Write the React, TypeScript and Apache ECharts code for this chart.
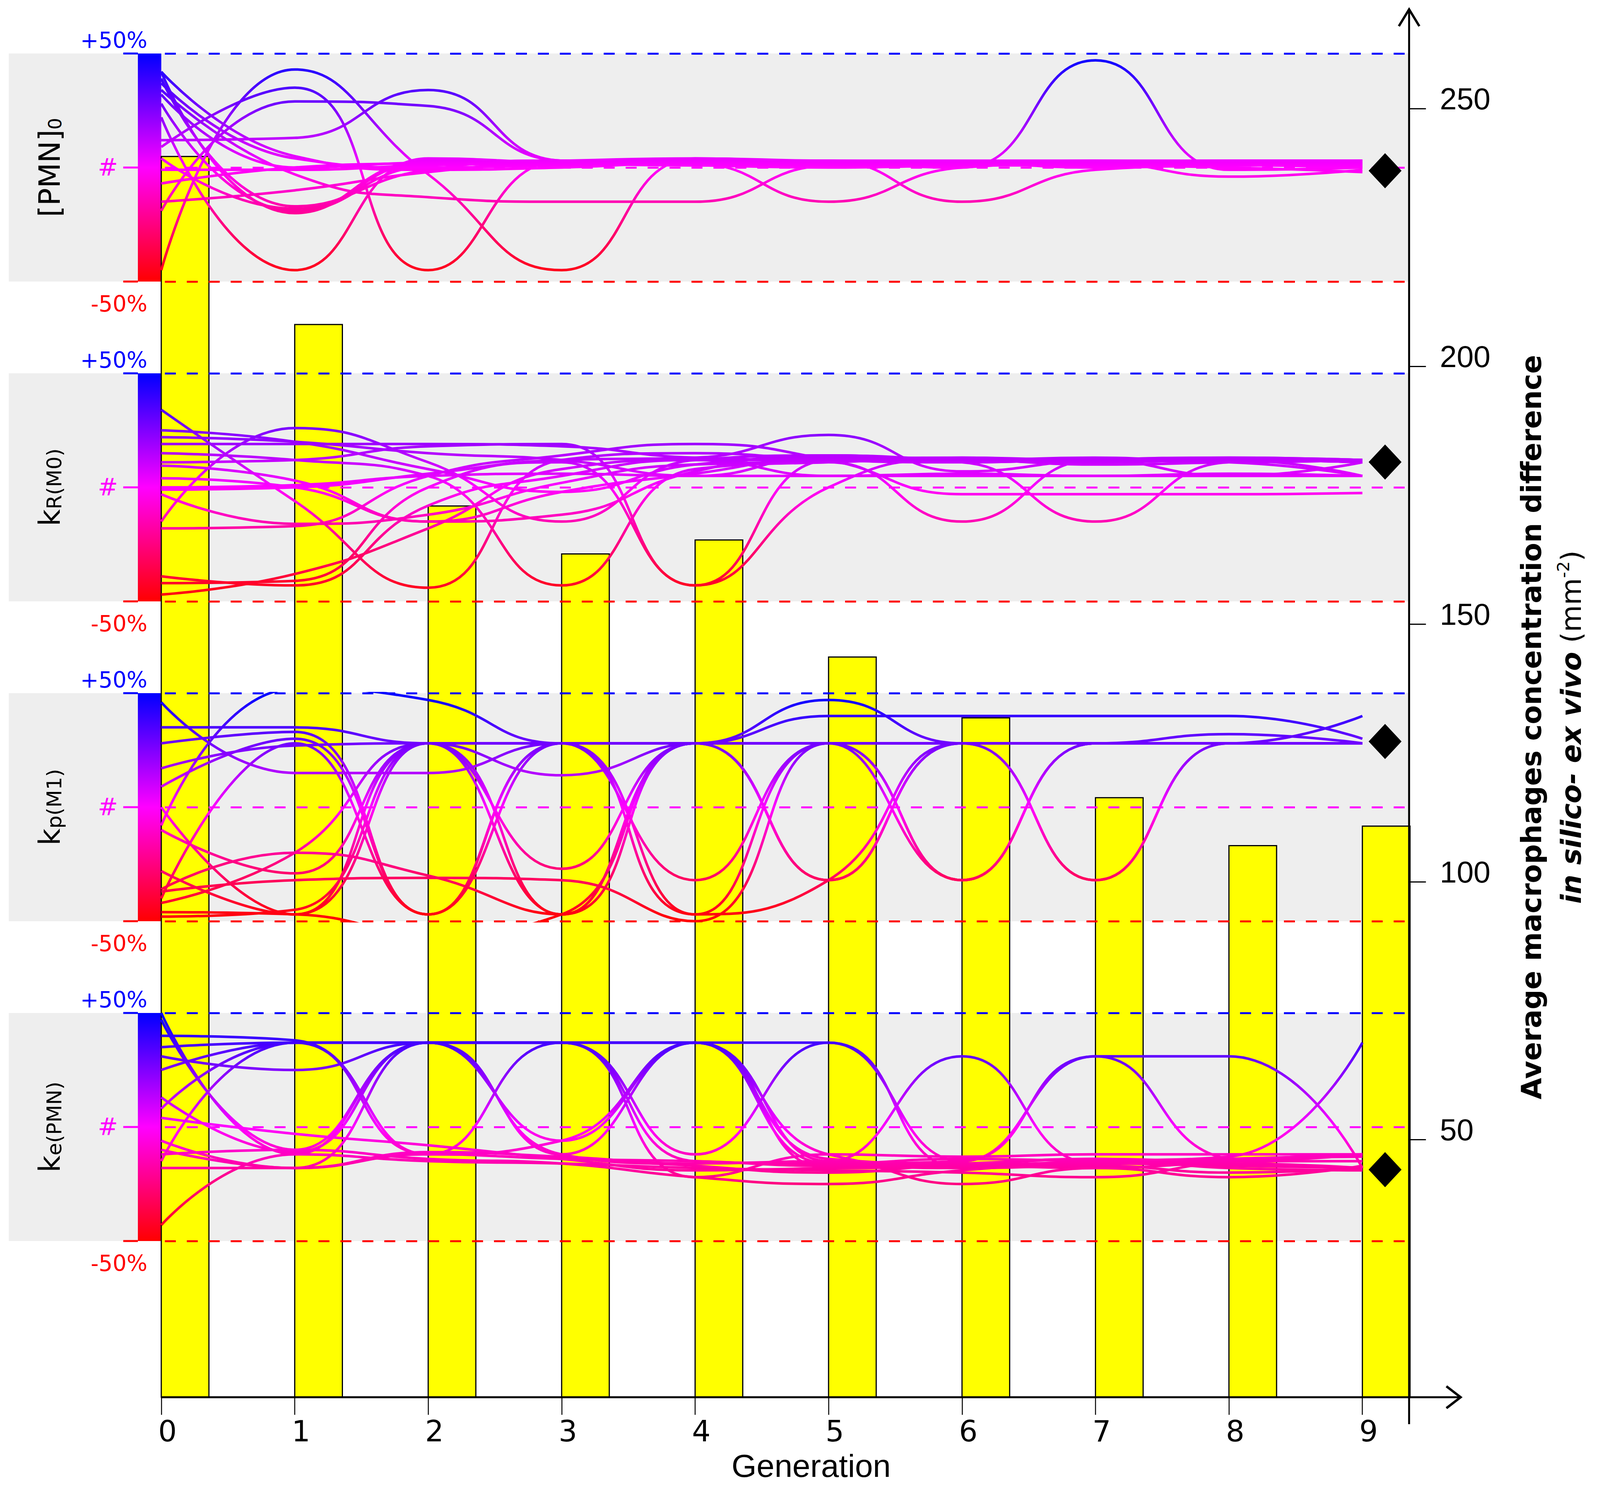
import React, { useEffect, useRef } from 'react';
import * as echarts from 'echarts';

// ------------------------------------------------------------------ data
const generations = [0, 1, 2, 3, 4, 5, 6, 7, 8, 9];
const barValues = [240.7, 208.1, 172.9, 163.6, 166.3, 143.6, 131.8, 116.3, 107.0, 110.8];
const levelLabels = ['+50%', '#', '-50%'];
const panelMain = ['[PMN]', 'k', 'k', 'k'];
const panelSub = ['0', 'R(M0)', 'p(M1)', 'e(PMN)'];
const bestGeneration = 9.17;
const bestValues = [-1.4, 11.1, 28.8, -18.7];

// relative parameter difference (%) of each individual, per generation
const pmnLines = [
  [-45, 43, -3, -45, 4, 2, 1, 2, 1, 2],
  [12, 13, 34, 3, 2, 3, 2, 3, 2, 3],
  [9, 35, -45, 3, 1, 2, 1, 2, 1, 2],
  [-19, 29, 27, 3, 2, 2, 1, 2, 2, 0],
  [22, -45, 4, 2, 1, 2, 1, 1, 2, 1],
  [42, -20, 3, 2, 2, 1, 2, 1, 1, 2],
  [39, -17, -1, 3, 2, -15, 0, 2, 2, 1],
  [37, 4, 0, 1, 2, 3, -15, -1, 1, 2],
  [34, -3, -13, -15, -15, 1, 2, 0, 1, 0],
  [32, 0, 2, 1, 3, 2, 0, 47, -1, 0],
  [28, -19, 1, 3, 2, 1, 1, 2, -4, -1],
  [4, -18, 2, 2, 1, 0, 1, 2, 1, 2],
  [-1, -1, 1, 2, 3, 2, 1, 2, 3, 3],
  [-7, 0, 2, 3, 4, 3, 3, 3, 3, 3],
  [-15, -10, -2, 2, 1, 2, 1, 1, 2, 1],
  [42, 5, -1, 0, 2, 1, 2, 1, 0, -2],
];
const krLines = [
  [34, -6, -44, 12, 15, 12, 11, 12, 12, 11],
  [-15, 26, 11, -15, 12, 14, 12, 11, 12, 11],
  [19, 19, 19, 18, 13, 12, 13, 12, 12, 11],
  [25, 20, 8, -2, 10, 13, 12, 13, 11, 12],
  [-39, -43, -8, 5, 12, 12, 11, 12, 11, 12],
  [-42, -41, 0, 11, -43, 12, 13, 11, 12, 5],
  [15, 12, 5, -43, 8, 11, 12, 11, 12, 11],
  [11, 12, 18, 19, -43, 0, 12, 10, 11, 12],
  [9.5, 3, -15, -2, 6, 13, 11, -15, 11, 12],
  [4, 0, -15, -12, 7, 14, 12, 12, 11, 5],
  [-1, 0, 6, 12, 13, 23, 7, 12, 13, 12],
  [-3, -16, -12, 2, 10, 11, -15, 12, 5, 11],
  [-18, -17, 5, 14, 19, 12, -3, -3, -3, -2.5],
  [-47, -38, -18, 8, 12, 5, 5, 5, 5, 5],
  [22, 20, 15, 12, 5, 14, 12, 12, 13, 12],
  [0, 1, 5, 6, 5, 5, 6, 5, 6, 5],
];
const kpLines = [
  [46, 15, 15, 28, 28, 28, 28, 28, 28, 28],
  [35, 35, 28, 28, 28, 40, 40, 40, 40, 30],
  [28, 33, -47, 28, 28, 28, 28, 28, 28, 28],
  [17, 27, 28, -47, 28, 28, 28, 28, 28, 28],
  [9, 30, -47, 28, 28, -32, 28, 28, 28, 28],
  [-8, 52, 47, 28, 28, 47, 28, 28, 28, 28],
  [-10, -29, 28, 28, -47, 28, 28, -32, 28, 28],
  [-28, -47, 28, -47, 28, 28, -32, 28, 28, 28],
  [-37, -32, -31, -32, -50, 28, -32, 28, 28, 28],
  [-42, -20, 28, 14, 28, -32, 28, 28, 28, 40],
  [-36, -20, -30, -47, 28, 28, 28, -32, 28, 28],
  [-46, -47, -55, -47, 28, 28, 28, 28, 28, 28],
  [-48, -45, 28, -27, 28, 28, -32, 28, 28, 28],
  [-40, 28, -47, 28, -32, 28, 28, 28, 32, 28],
  [0, -47, 28, 28, -47, -32, 28, 28, 28, 28],
];
const keLines = [
  [50, -12, 37, 37, 37, 37, -18, -15, -14, -12],
  [47, -10, 37, 37, -12, 37, -15, 31, -14, -18],
  [40, 38, -12, 37, 37, -15, 31, -16, -14, -13],
  [35, 37, 37, -12, 37, -16, -15, 31, 31, -18],
  [31, 25, 37, 37, 37, -18, -17, -15, -13, 37],
  [25, 37, -12, -6, 37, -14, -16, -14, -15, -12],
  [13, -11, 37, 37, -15, -16, -14, -15, -16, -18],
  [4, -3, -8, -14, -19, -18, -17, -16, -15, -15],
  [-6, -18, -12, -14, -15, -17, -16, -14, -18, -19],
  [-12, -10, -14, -16, -22, -25, -19, -16, -17, -18],
  [-18, -18, -11, -13, -16, -15, -25, -18, -22, -17],
  [-43, -12, -15, -16, -18, -19, -20, -22, -15, -12],
  [-15, 37, 37, -12, -17, -20, -17, -18, -16, -18],
  [8, 37, 37, 37, -22, -12, -13, -12, -12, -12],
  [-10, -18, 37, -6, 37, -12, -18, -17, -20, -18],
];
const panelLines = [pmnLines, krLines, kpLines, keLines];

// ------------------------------------------------------------------ layout (reference pixels)
const REF_W = 4375;
const REF_H = 3813;
const PLOT_L = 441;
const PLOT_R = 3853;
const X_MAX = 9.35;
const AXIS_Y = 3578;
const Y250 = 278;
const PANEL_TOP0 = 137;
const PANEL_STEP = 819;
const PANEL_H = 584;
const BAND_L = 24;
const SCALE_L = 377;
const FONT = 'DejaVu Sans';
const BLUE = '#0000ff';
const MAGENTA = '#ff00ff';
const RED = '#ff0000';
const BAR_SPAN = 0.357;

function buildOption(sx: number, sy: number) {
  const X = (v: number) => v * sx;
  const Y = (v: number) => v * sy;
  const fs = Math.min(sx, sy);
  const F = (v: number) => v * fs;
  const makeGrad = (top: number, bottom: number) =>
    new echarts.graphic.LinearGradient(0, Y(top), 0, Y(bottom), [
      { offset: 0, color: BLUE },
      { offset: 0.5, color: MAGENTA },
      { offset: 1, color: RED },
    ], true);

  const grids: any[] = [{ left: X(PLOT_L), top: Y(Y250), width: X(PLOT_R - PLOT_L), height: Y(AXIS_Y - Y250), containLabel: false, outerBoundsMode: 'none' }];
  const xAxes: any[] = [{
    type: 'value', gridIndex: 0, min: 0, max: X_MAX, interval: 1, z: 6,
    axisLine: { show: false, onZero: false },
    axisTick: { show: true, length: Y(45), lineStyle: { color: '#000', width: 2.5 } },
    axisLabel: {
      fontSize: F(80), fontFamily: FONT, color: '#000', margin: Y(50), lineHeight: F(80),
      padding: [0, 0, 0, X(34)], showMaxLabel: false,
      formatter: (v: number) => (Number.isInteger(v) ? String(v) : ''),
    },
    splitLine: { show: false },
  }];
  const yAxes: any[] = [{
    type: 'value', gridIndex: 0, position: 'right', min: 0, max: 250, interval: 50, z: 6,
    axisLine: { show: false, onZero: false },
    axisTick: { show: true, length: X(46), lineStyle: { color: '#000', width: 3 } },
    axisLabel: {
      fontSize: F(83), fontFamily: 'Liberation Sans', color: '#000', margin: X(84),
      verticalAlign: 'bottom', lineHeight: F(54),
      formatter: (v: number) => (v === 0 ? '' : String(v)),
    },
    splitLine: { show: false },
  }];
  const series: any[] = [{
    type: 'custom', xAxisIndex: 0, yAxisIndex: 0, z: 2, silent: true, clip: false,
    data: generations.map((g, i) => [g, barValues[i]]),
    renderItem: (_p: any, api: any) => {
      const g = api.value(0);
      const v = api.value(1);
      const p0 = api.coord([g, v]);
      const p1 = api.coord([g + BAR_SPAN, 0]);
      return {
        type: 'rect',
        shape: { x: p0[0], y: p0[1], width: p1[0] - p0[0], height: p1[1] - p0[1] },
        style: { fill: '#ffff00', stroke: '#000', lineWidth: 3 },
      };
    },
  }];
  const graphics: any[] = [];

  for (let i = 0; i < 4; i++) {
    const T = PANEL_TOP0 + i * PANEL_STEP;
    const B = T + PANEL_H;
    const M = (T + B) / 2;
    grids.push({ left: X(PLOT_L), top: Y(T), width: X(PLOT_R - PLOT_L), height: Y(PANEL_H), containLabel: false, outerBoundsMode: 'none' });
    xAxes.push({ type: 'value', gridIndex: i + 1, min: 0, max: X_MAX, show: false });
    yAxes.push({
      type: 'value', gridIndex: i + 1, min: -50, max: 50, interval: 50, z: 3,
      axisLine: { show: false, onZero: false }, axisTick: { show: false }, axisLabel: { show: false },
      splitLine: { show: true, lineStyle: { color: [RED, MAGENTA, BLUE], width: 5, type: [X(30), X(30)], dashOffset: X(50) } },
    });
    const grad = makeGrad(T, B);
    panelLines[i].forEach((vals) => {
      series.push({
        type: 'line', xAxisIndex: i + 1, yAxisIndex: i + 1, z: 4, silent: true, clip: true,
        smooth: 0.5, symbol: 'none', showSymbol: false,
        data: generations.map((g, j) => [g, vals[j]]),
        lineStyle: { width: 6.5, color: grad },
      });
    });
    series.push({
      type: 'scatter', xAxisIndex: i + 1, yAxisIndex: i + 1, z: 5, silent: true,
      symbol: 'diamond', symbolSize: [X(90), Y(90)],
      data: [[bestGeneration, bestValues[i]]],
      itemStyle: { color: '#000000', opacity: 1 },
    });

    graphics.push({ type: 'rect', z: 0, silent: true, shape: { x: X(BAND_L), y: Y(T), width: X(PLOT_R - BAND_L), height: Y(PANEL_H) }, style: { fill: '#eeeeee' } });
    graphics.push({ type: 'rect', z: 1, silent: true, shape: { x: X(SCALE_L), y: Y(T), width: X(PLOT_L - SCALE_L), height: Y(PANEL_H) }, style: { fill: grad } });
    ([[T, BLUE], [M, MAGENTA], [B, RED]] as [number, string][]).forEach(([yy, c]) => {
      graphics.push({ type: 'line', z: 1, silent: true, shape: { x1: X(337), y1: Y(yy), x2: X(SCALE_L), y2: Y(yy) }, style: { stroke: c, lineWidth: 5 } });
    });
    graphics.push({ type: 'text', z: 10, silent: true, x: X(403), y: Y(T - 34), style: { text: levelLabels[0], fill: BLUE, fontSize: F(60), fontFamily: FONT, align: 'right', verticalAlign: 'middle', textAlign: 'right', textVerticalAlign: 'middle' } });
    graphics.push({ type: 'text', z: 10, silent: true, x: X(295), y: Y(M), style: { text: levelLabels[1], fill: MAGENTA, fontSize: F(66), fontFamily: FONT, align: 'center', verticalAlign: 'middle', textAlign: 'center', textVerticalAlign: 'middle' } });
    graphics.push({ type: 'text', z: 10, silent: true, x: X(403), y: Y(B + 57), style: { text: levelLabels[2], fill: RED, fontSize: F(60), fontFamily: FONT, align: 'right', verticalAlign: 'middle', textAlign: 'right', textVerticalAlign: 'middle' } });
    const subSize = i === 0 ? 50 : 56;
    graphics.push({
      type: 'text', z: 10, silent: true, x: X(136), y: Y(M), rotation: Math.PI / 2,
      style: {
        text: `{m|${panelMain[i]}}{s|${panelSub[i]}}`,
        align: 'center', verticalAlign: 'middle', textAlign: 'center', textVerticalAlign: 'middle',
        rich: {
          m: { fontSize: F(80), lineHeight: F(80), fontFamily: FONT, fill: '#000', color: '#000', verticalAlign: 'middle' },
          s: { fontSize: F(subSize), lineHeight: F(subSize), fontFamily: FONT, fill: '#000', color: '#000', verticalAlign: 'bottom', padding: [F(102 - subSize), 0, 0, 0] },
        },
      },
    });
  }

  // axes lines and arrows
  graphics.push({ type: 'line', z: 7, silent: true, shape: { x1: X(PLOT_L), y1: Y(AXIS_Y), x2: X(3990), y2: Y(AXIS_Y) }, style: { stroke: '#000', lineWidth: 5 } });
  graphics.push({ type: 'polyline', z: 7, silent: true, shape: { points: [[X(3955), Y(3550)], [X(3994), Y(AXIS_Y)], [X(3955), Y(3606)]] }, style: { stroke: '#000', lineWidth: 6, fill: 'none' } });
  graphics.push({ type: 'line', z: 7, silent: true, shape: { x1: X(PLOT_R), y1: Y(28), x2: X(PLOT_R), y2: Y(3647) }, style: { stroke: '#000', lineWidth: 5 } });
  graphics.push({ type: 'polyline', z: 7, silent: true, shape: { points: [[X(PLOT_R - 28), Y(67)], [X(PLOT_R), Y(24)], [X(PLOT_R + 28), Y(67)]] }, style: { stroke: '#000', lineWidth: 6, fill: 'none' } });

  // axis titles
  graphics.push({ type: 'text', z: 10, silent: true, x: X(2218), y: Y(3753), style: { text: 'Generation', fill: '#000', fontSize: F(88), fontFamily: 'Liberation Sans', align: 'center', verticalAlign: 'middle', textAlign: 'center', textVerticalAlign: 'middle' } });
  graphics.push({ type: 'text', z: 10, silent: true, x: X(4188), y: Y(1862), rotation: Math.PI / 2, style: { text: 'Average macrophages concentration difference', fill: '#000', fontSize: F(76), fontWeight: 'bold', fontFamily: FONT, align: 'center', verticalAlign: 'middle', textAlign: 'center', textVerticalAlign: 'middle' } });
  graphics.push({
    type: 'text', z: 10, silent: true, x: X(4297), y: Y(1862), rotation: Math.PI / 2,
    style: {
      text: '{bi|in silico- ex vivo}{r| (mm}{sup|-2}{r|)}',
      align: 'center', verticalAlign: 'middle', textAlign: 'center', textVerticalAlign: 'middle',
      rich: {
        bi: { fontSize: F(76), lineHeight: F(90), fontWeight: 'bold', fontStyle: 'italic', fontFamily: FONT, fill: '#000', color: '#000', verticalAlign: 'middle' },
        r: { fontSize: F(76), lineHeight: F(90), fontFamily: FONT, fill: '#000', color: '#000', verticalAlign: 'middle' },
        sup: { fontSize: F(46), lineHeight: F(46), fontFamily: FONT, fill: '#000', color: '#000', verticalAlign: 'top' },
      },
    },
  });

  return {
    animation: false,
    backgroundColor: '#ffffff',
    grid: grids,
    xAxis: xAxes,
    yAxis: yAxes,
    series,
    graphic: { elements: graphics },
  };
}

export default function App() {
  const ref = useRef<HTMLDivElement>(null);
  useEffect(() => {
    const el = ref.current;
    if (!el) return;
    const w = el.clientWidth || REF_W;
    const h = el.clientHeight || REF_H;
    const chart = echarts.init(el, null, { renderer: 'svg', width: w, height: h });
    chart.setOption(buildOption(w / REF_W, h / REF_H) as any);
    return () => chart.dispose();
  }, []);
  return <div ref={ref} style={{ position: 'fixed', left: 0, top: 0, width: '100vw', height: '100vh', background: '#fff' }} />;
}
